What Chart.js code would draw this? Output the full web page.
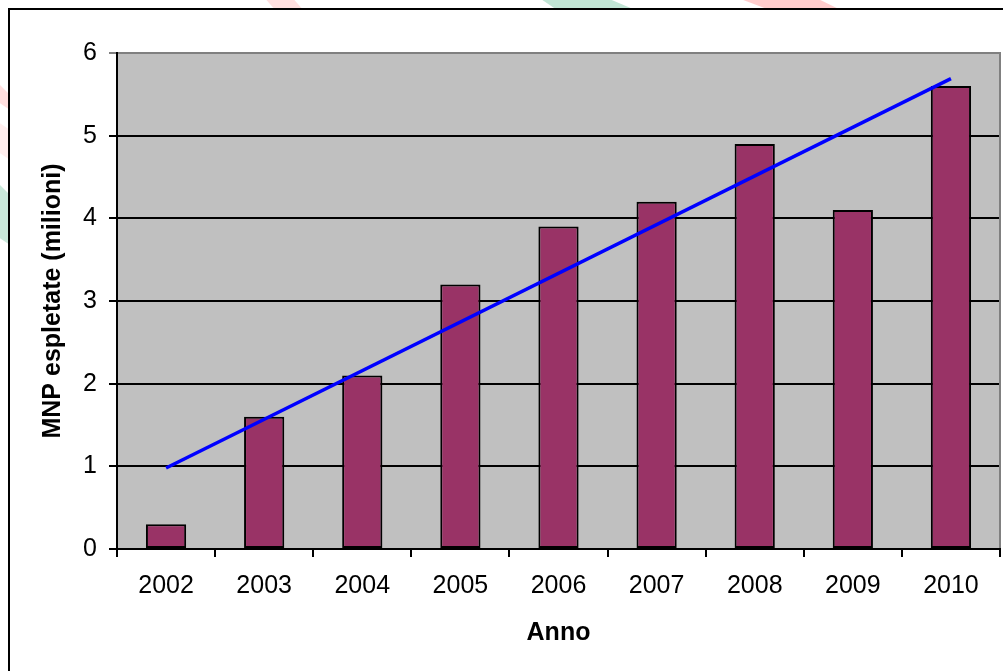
<!DOCTYPE html>
<html>
<head>
<meta charset="utf-8">
<script src="https://cdn.jsdelivr.net/npm/chart.js@4/dist/chart.umd.min.js"></script>
<style>
  html, body { margin: 0; padding: 0; background: #ffffff; }
  #wrap { width: 1003px; height: 671px; position: relative; }
</style>
</head>
<body>
<div id="wrap"><canvas id="c" width="1003" height="671"></canvas></div>
<script>
const categories = ['2002', '2003', '2004', '2005', '2006', '2007', '2008', '2009', '2010'];
const mnpValues = [0.3, 1.6, 2.1, 3.2, 3.9, 4.2, 4.9, 4.1, 5.6];
// trend line: start (2002) and end (2010) only
const trendValues = [0.98, null, null, null, null, null, null, null, 5.69];
const yTicks = [0, 1, 2, 3, 4, 5, 6];
const yTitle = 'MNP espletate (milioni)';
const xTitle = 'Anno';

const backdrop = {
  id: 'backdrop',
  beforeDraw(chart) {
    const ctx = chart.ctx;
    const W = chart.width, H = chart.height;
    ctx.save();
    ctx.fillStyle = '#ffffff';
    ctx.fillRect(0, 0, W, H);
    // faint watermark stripes peeking out around the frame
    ctx.beginPath();
    ctx.rect(0, 0, W, 9);
    ctx.rect(0, 0, 9, H);
    ctx.clip();
    const stripe = (pts, col) => {
      ctx.beginPath();
      ctx.moveTo(pts[0][0], pts[0][1]);
      for (let i = 1; i < pts.length; i++) ctx.lineTo(pts[i][0], pts[i][1]);
      ctx.closePath();
      ctx.fillStyle = col;
      ctx.fill();
    };
    stripe([[262, -5], [290, -5], [305, 12], [277, 12]], 'rgba(255,150,150,0.3)');
    stripe([[535, -5], [600, -5], [640, 12], [560, 12]], 'rgba(100,190,150,0.4)');
    stripe([[730, -5], [810, -5], [845, 12], [775, 12]], 'rgba(255,130,130,0.4)');
    stripe([[-5, 80], [10, 95], [10, 110], [-5, 100]], 'rgba(255,150,150,0.3)');
    stripe([[-5, 180], [10, 195], [10, 245], [-5, 235]], 'rgba(100,190,150,0.35)');
    stripe([[-5, 120], [10, 130], [10, 160], [-5, 150]], 'rgba(255,170,170,0.2)');
    ctx.restore();
    // outer frame
    ctx.save();
    ctx.strokeStyle = '#000000';
    ctx.lineWidth = 2;
    ctx.strokeRect(9, 9, W + 20, H + 20);
    ctx.restore();
    // plot area fill
    const a = chart.chartArea;
    ctx.save();
    ctx.fillStyle = '#C0C0C0';
    ctx.fillRect(a.left, a.top, a.right - a.left, a.bottom - a.top);
    ctx.restore();
  },
  afterDatasetsDraw(chart) {
    const ctx = chart.ctx;
    const a = chart.chartArea;
    ctx.save();
    ctx.strokeStyle = '#808080';
    ctx.lineWidth = 2;
    ctx.beginPath();
    ctx.moveTo(a.left + 1, a.top);
    ctx.lineTo(a.right, a.top);
    ctx.lineTo(a.right, a.bottom - 1);
    ctx.stroke();
    ctx.restore();
  }
};

const FONT = 'Liberation Sans, Arial, sans-serif';

new Chart(document.getElementById('c'), {
  type: 'bar',
  data: {
    labels: categories,
    datasets: [
      {
        type: 'line',
        data: trendValues,
        borderColor: '#0000FF',
        borderWidth: 3.5,
        pointRadius: 0,
        spanGaps: true,
        fill: false,
        order: 0
      },
      {
        type: 'bar',
        data: mnpValues,
        backgroundColor: '#993366',
        borderColor: '#000000',
        borderWidth: 2,
        borderSkipped: false,
        categoryPercentage: 1,
        barPercentage: 0.41,
        order: 1
      }
    ]
  },
  plugins: [backdrop],
  options: {
    responsive: false,
    animation: false,
    devicePixelRatio: 1,
    layout: { padding: { top: 53, right: 3, left: 0, bottom: 0 } },
    plugins: {
      legend: { display: false },
      tooltip: { enabled: false }
    },
    scales: {
      x: {
        offset: true,
        afterFit(scale) { scale.height = 122; },
        border: { display: true, color: '#000000', width: 2 },
        grid: {
          offset: true,
          drawOnChartArea: false,
          drawTicks: true,
          tickLength: 8,
          color: '#000000',
          lineWidth: 2
        },
        ticks: {
          color: '#000000',
          padding: 14,
          font: { family: FONT, size: 25 }
        },
        title: {
          display: true,
          text: xTitle,
          color: '#000000',
          padding: { top: 4, bottom: 23 },
          font: { family: FONT, size: 25, weight: 'bold' }
        }
      },
      y: {
        min: 0,
        max: 6,
        afterFit(scale) { scale.width = 117; },
        afterBuildTicks(scale) { scale.ticks = yTicks.map(v => ({ value: v })); },
        border: { display: true, color: '#000000', width: 2 },
        grid: {
          drawTicks: true,
          tickLength: 8,
          lineWidth: 2,
          color: (c) => (c.tick && c.tick.value === 6 ? '#808080' : '#000000')
        },
        ticks: {
          color: '#000000',
          padding: 12,
          font: { family: FONT, size: 25 }
        },
        title: {
          display: true,
          text: yTitle,
          color: '#000000',
          padding: { top: 38, bottom: 0 },
          font: { family: FONT, size: 25, weight: 'bold' }
        }
      }
    }
  }
});
</script>
</body>
</html>
